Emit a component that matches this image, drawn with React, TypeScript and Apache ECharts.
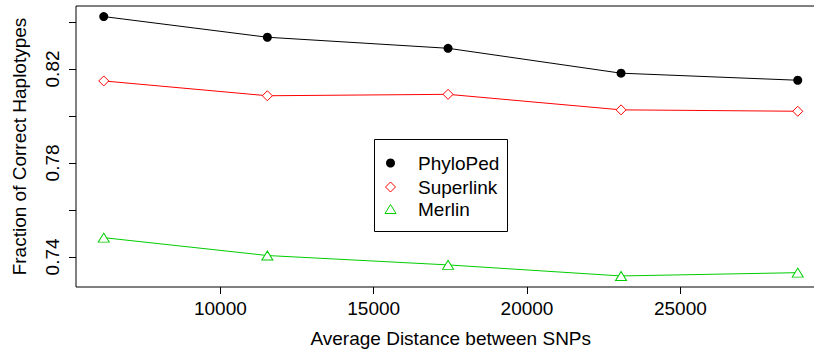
import React, { useEffect, useRef } from 'react';
import * as echarts from 'echarts';

// Data
const distances = [6198, 11533, 17425, 23066, 28828];
const phyloPed = [0.8423, 0.8335, 0.8288, 0.8182, 0.8152];
const superlink = [0.8149, 0.8086, 0.8092, 0.8026, 0.802];
const merlin = [0.7482, 0.7406, 0.7366, 0.7319, 0.7333];
const seriesNames = ['PhyloPed', 'Superlink', 'Merlin'];
const seriesColors = ['#000000', '#FF0000', '#00CD00'];
const xTicks = [10000, 15000, 20000, 25000];
const yTicks = [0.74, 0.76, 0.78, 0.8, 0.82, 0.84];
const yLabels = [0.74, 0.78, 0.82];

const FONT = "'Liberation Sans', Arial, Helvetica, sans-serif";
const FS = 19;

export default function App() {
  const ref = useRef<HTMLDivElement>(null);

  useEffect(() => {
    if (!ref.current) return;
    const chart = echarts.init(ref.current, undefined, { renderer: 'svg' });
    const toPairs = (vals: number[]) => distances.map((d, i) => [d, vals[i]]);

    const legendY = [163, 187, 209.5];
    const sx = 390.5;

    const option: any = {
      animation: false,
      backgroundColor: '#ffffff',
      textStyle: { fontFamily: FONT },
      grid: {
        left: 76,
        top: 6,
        right: 4.5,
        bottom: 65.7,
        show: true,
        borderColor: '#000',
        borderWidth: 1,
        backgroundColor: 'transparent',
      },
      xAxis: {
        type: 'value',
        min: 5293,
        max: 29733,
        name: 'Average Distance between SNPs',
        nameLocation: 'middle',
        nameGap: 42,
        nameTextStyle: { fontSize: FS, color: '#000', fontFamily: FONT },
        axisLine: { show: false },
        axisTick: {
          show: true,
          length: 7,
          customValues: xTicks,
          lineStyle: { color: '#000', width: 1 },
        },
        axisLabel: {
          show: true,
          customValues: xTicks,
          margin: 12,
          fontSize: FS,
          color: '#000',
          fontFamily: FONT,
          formatter: (v: number) => String(v),
        },
        splitLine: { show: false },
      },
      yAxis: {
        type: 'value',
        min: 0.7272,
        max: 0.8468,
        name: 'Fraction of Correct Haplotypes',
        nameLocation: 'middle',
        nameGap: 47,
        nameTextStyle: { fontSize: FS, color: '#000', fontFamily: FONT },
        axisLine: { show: false },
        axisTick: {
          show: true,
          length: 7,
          customValues: yTicks,
          lineStyle: { color: '#000', width: 1 },
        },
        axisLabel: {
          show: true,
          customValues: yLabels,
          rotate: 90,
          margin: 14,
          fontSize: FS,
          color: '#000',
          fontFamily: FONT,
          formatter: (v: number) => v.toFixed(2),
        },
        splitLine: { show: false },
      },
      series: [
        {
          name: seriesNames[0],
          type: 'line',
          data: toPairs(phyloPed),
          symbol: 'circle',
          symbolSize: 9,
          itemStyle: { color: seriesColors[0], borderWidth: 0 },
          lineStyle: { color: seriesColors[0], width: 1 },
        },
        {
          name: seriesNames[1],
          type: 'line',
          data: toPairs(superlink),
          symbol: 'diamond',
          symbolSize: 10,
          itemStyle: { color: '#fff', borderColor: seriesColors[1], borderWidth: 1 },
          lineStyle: { color: seriesColors[1], width: 1 },
        },
        {
          name: seriesNames[2],
          type: 'line',
          data: toPairs(merlin),
          symbol: 'triangle',
          symbolSize: [11, 9],
          itemStyle: { color: '#fff', borderColor: seriesColors[2], borderWidth: 1 },
          lineStyle: { color: seriesColors[2], width: 1 },
        },
      ],
      graphic: [
        {
          type: 'group',
          z: 100,
          children: [
            {
              type: 'rect',
              shape: { x: 374.5, y: 139.5, width: 133, height: 92 },
              style: { fill: '#fff', stroke: '#000', lineWidth: 1 },
            },
            {
              type: 'circle',
              shape: { cx: sx, cy: legendY[0], r: 4.5 },
              style: { fill: seriesColors[0] },
            },
            {
              type: 'polygon',
              shape: {
                points: [
                  [sx, legendY[1] - 5],
                  [sx + 5, legendY[1]],
                  [sx, legendY[1] + 5],
                  [sx - 5, legendY[1]],
                ],
              },
              style: { fill: '#fff', stroke: seriesColors[1], lineWidth: 1 },
            },
            {
              type: 'polygon',
              shape: {
                points: [
                  [sx, legendY[2] - 5],
                  [sx + 5.5, legendY[2] + 4],
                  [sx - 5.5, legendY[2] + 4],
                ],
              },
              style: { fill: '#fff', stroke: seriesColors[2], lineWidth: 1 },
            },
            ...seriesNames.map((n, i) => ({
              type: 'text',
              x: 418,
              y: legendY[i],
              style: {
                text: n,
                fill: '#000',
                font: `${FS}px ${FONT}`,
                verticalAlign: 'middle',
                align: 'left',
              },
            })),
          ],
        },
      ],
    };

    chart.setOption(option);
    return () => chart.dispose();
  }, []);

  return (
    <div
      style={{
        position: 'fixed',
        left: 0,
        top: 0,
        width: 814,
        height: 353,
        overflow: 'hidden',
        background: '#fff',
      }}
    >
      <div ref={ref} style={{ width: 830, height: 353 }} />
    </div>
  );
}
